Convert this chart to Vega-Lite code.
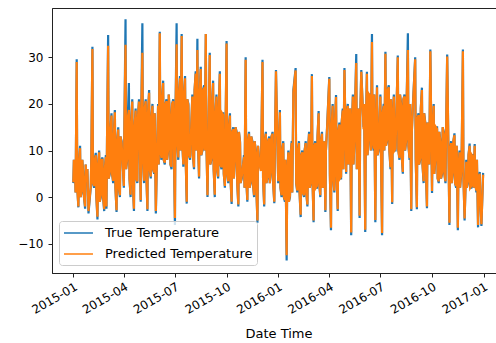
{
"$schema": "https://vega.github.io/schema/vega-lite/v6.json",
"width": 453, "height": 265,
"autosize": {"type": "none"},
"padding": {"left": 52, "top": 8, "right": 0, "bottom": 70},
"background": "white",
"config": {
 "font": "DejaVu Sans",
 "view": {"stroke": "#222", "strokeWidth": 1},
 "axis": {"grid": false, "domainColor": "#222", "tickColor": "#222", "labelColor": "#000", "labelFontSize": 12, "tickSize": 4, "labelPadding": 4, "domainWidth": 1, "tickWidth": 1, "titleColor": "#000", "titleFontWeight": "normal", "titleFontSize": 13}
},
"data": {"values": [
{"d":"2015-01-01","t":3,"p":3.2},{"d":"2015-01-02","t":8,"p":8},{"d":"2015-01-04","t":6.5,"p":6},{"d":"2015-01-05","t":1,"p":1},{"d":"2015-01-07","t":29.6,"p":29},{"d":"2015-01-08","t":2,"p":2},{"d":"2015-01-10","t":-2.2,"p":-2},{"d":"2015-01-11","t":7,"p":7},{"d":"2015-01-13","t":11,"p":10.5},{"d":"2015-01-14","t":0,"p":0},{"d":"2015-01-16","t":1,"p":1.4},{"d":"2015-01-17","t":8,"p":8},{"d":"2015-01-19","t":4.5,"p":4},{"d":"2015-01-20","t":0,"p":0},{"d":"2015-01-22","t":-2.5,"p":-2},{"d":"2015-01-23","t":7,"p":7},{"d":"2015-01-25","t":3,"p":3.2},{"d":"2015-01-26","t":6,"p":6},{"d":"2015-01-28","t":-3.5,"p":-3},
{"d":"2015-02-01","t":2,"p":2.3},{"d":"2015-02-02","t":8,"p":8},{"d":"2015-02-04","t":32.3,"p":31.8},{"d":"2015-02-05","t":3,"p":3},{"d":"2015-02-07","t":2,"p":2.4},{"d":"2015-02-08","t":8,"p":8},{"d":"2015-02-10","t":9.5,"p":9},{"d":"2015-02-11","t":0,"p":0},{"d":"2015-02-13","t":-4.8,"p":-4.2},{"d":"2015-02-14","t":7,"p":7},{"d":"2015-02-16","t":10,"p":9.6},{"d":"2015-02-17","t":-1,"p":-1},{"d":"2015-02-19","t":0,"p":0.4},{"d":"2015-02-20","t":8,"p":8},{"d":"2015-02-22","t":8.5,"p":8},{"d":"2015-02-23","t":0,"p":0},{"d":"2015-02-25","t":-3,"p":-2.6},{"d":"2015-02-26","t":6,"p":6},{"d":"2015-02-28","t":9,"p":8.6},
{"d":"2015-03-01","t":-2.5,"p":-2},{"d":"2015-03-02","t":12,"p":12},{"d":"2015-03-04","t":34.8,"p":32.5},{"d":"2015-03-05","t":4,"p":4},{"d":"2015-03-07","t":5,"p":5.4},{"d":"2015-03-08","t":14,"p":14},{"d":"2015-03-10","t":18,"p":17.5},{"d":"2015-03-11","t":5,"p":5},{"d":"2015-03-13","t":3,"p":3.5},{"d":"2015-03-14","t":13,"p":13},{"d":"2015-03-16","t":18.7,"p":18.2},{"d":"2015-03-17","t":2,"p":2},{"d":"2015-03-19","t":-3.2,"p":-2.8},{"d":"2015-03-20","t":12,"p":12},{"d":"2015-03-22","t":15,"p":14.5},{"d":"2015-03-23","t":2,"p":2},{"d":"2015-03-25","t":0,"p":0.4},{"d":"2015-03-26","t":13,"p":13},{"d":"2015-03-28","t":12,"p":11.6},
{"d":"2015-04-01","t":2,"p":2.4},{"d":"2015-04-02","t":16,"p":16},{"d":"2015-04-04","t":38.2,"p":32.7},{"d":"2015-04-05","t":6,"p":6},{"d":"2015-04-07","t":8,"p":8.4},{"d":"2015-04-08","t":17,"p":17},{"d":"2015-04-10","t":24.5,"p":18.7},{"d":"2015-04-11","t":4,"p":4},{"d":"2015-04-13","t":0,"p":0.5},{"d":"2015-04-14","t":16,"p":16},{"d":"2015-04-16","t":21,"p":20.5},{"d":"2015-04-17","t":3,"p":3},{"d":"2015-04-19","t":-3,"p":-2.5},{"d":"2015-04-20","t":15,"p":15},{"d":"2015-04-22","t":19,"p":18.6},{"d":"2015-04-23","t":4,"p":4},{"d":"2015-04-25","t":3,"p":3.4},{"d":"2015-04-26","t":17,"p":17},{"d":"2015-04-28","t":21,"p":20.5},
{"d":"2015-05-01","t":-1,"p":-0.6},{"d":"2015-05-02","t":18,"p":18},{"d":"2015-05-04","t":37.3,"p":31},{"d":"2015-05-05","t":8,"p":8},{"d":"2015-05-07","t":3,"p":3.5},{"d":"2015-05-08","t":19,"p":19},{"d":"2015-05-10","t":21,"p":20.6},{"d":"2015-05-11","t":5,"p":5},{"d":"2015-05-13","t":-3,"p":-2.6},{"d":"2015-05-14","t":18,"p":18},{"d":"2015-05-16","t":23,"p":22.4},{"d":"2015-05-17","t":6,"p":6},{"d":"2015-05-19","t":4,"p":4.4},{"d":"2015-05-20","t":17,"p":17},{"d":"2015-05-22","t":20,"p":19.6},{"d":"2015-05-23","t":6,"p":6},{"d":"2015-05-25","t":5,"p":5.3},{"d":"2015-05-26","t":18,"p":18},{"d":"2015-05-28","t":-3.5,"p":-3},
{"d":"2015-06-01","t":20,"p":19.6},{"d":"2015-06-02","t":7,"p":7},{"d":"2015-06-04","t":35.5,"p":35.2},{"d":"2015-06-05","t":10,"p":10},{"d":"2015-06-07","t":8,"p":8.4},{"d":"2015-06-08","t":21,"p":21},{"d":"2015-06-10","t":25,"p":24.5},{"d":"2015-06-11","t":8,"p":8},{"d":"2015-06-13","t":7,"p":7.4},{"d":"2015-06-14","t":20,"p":20},{"d":"2015-06-16","t":21,"p":20.6},{"d":"2015-06-17","t":8,"p":8},{"d":"2015-06-19","t":10,"p":10.4},{"d":"2015-06-20","t":22,"p":22},{"d":"2015-06-22","t":18,"p":17.5},{"d":"2015-06-23","t":7,"p":7},{"d":"2015-06-25","t":6,"p":6.5},{"d":"2015-06-26","t":20,"p":20},{"d":"2015-06-28","t":21,"p":20.6},
{"d":"2015-07-01","t":-6,"p":-4.5},{"d":"2015-07-02","t":18,"p":18},{"d":"2015-07-04","t":37.3,"p":32.8},{"d":"2015-07-05","t":12,"p":12},{"d":"2015-07-07","t":8,"p":8.5},{"d":"2015-07-08","t":22,"p":22},{"d":"2015-07-10","t":26,"p":25.5},{"d":"2015-07-11","t":10,"p":10},{"d":"2015-07-13","t":35,"p":34.6},{"d":"2015-07-14","t":12,"p":12},{"d":"2015-07-16","t":6.5,"p":7},{"d":"2015-07-17","t":22,"p":22},{"d":"2015-07-19","t":26,"p":25.5},{"d":"2015-07-20","t":9,"p":9},{"d":"2015-07-22","t":-1.4,"p":-1},{"d":"2015-07-23","t":21,"p":21},{"d":"2015-07-25","t":20,"p":19.6},{"d":"2015-07-26","t":9,"p":9},{"d":"2015-07-28","t":8,"p":8.4},
{"d":"2015-08-01","t":22,"p":21.6},{"d":"2015-08-02","t":9,"p":9},{"d":"2015-08-04","t":6,"p":6.4},{"d":"2015-08-05","t":23,"p":23},{"d":"2015-08-07","t":27,"p":26.5},{"d":"2015-08-08","t":10,"p":10},{"d":"2015-08-10","t":34,"p":31.6},{"d":"2015-08-11","t":12,"p":12},{"d":"2015-08-13","t":4,"p":4.4},{"d":"2015-08-14","t":22,"p":22},{"d":"2015-08-16","t":28,"p":27.5},{"d":"2015-08-17","t":9,"p":9},{"d":"2015-08-19","t":10,"p":10.4},{"d":"2015-08-20","t":23,"p":23},{"d":"2015-08-22","t":24,"p":23.5},{"d":"2015-08-23","t":10,"p":10},{"d":"2015-08-25","t":35,"p":35},{"d":"2015-08-26","t":12,"p":12},{"d":"2015-08-28","t":0,"p":0.4},
{"d":"2015-09-01","t":31,"p":30.5},{"d":"2015-09-02","t":7,"p":7},{"d":"2015-09-04","t":8,"p":8.4},{"d":"2015-09-05","t":20,"p":20},{"d":"2015-09-07","t":25,"p":24.5},{"d":"2015-09-08","t":6,"p":6},{"d":"2015-09-10","t":0,"p":0.5},{"d":"2015-09-11","t":18,"p":18},{"d":"2015-09-13","t":22,"p":21.6},{"d":"2015-09-14","t":6,"p":6},{"d":"2015-09-16","t":4,"p":4.4},{"d":"2015-09-17","t":19,"p":19},{"d":"2015-09-19","t":27,"p":26.5},{"d":"2015-09-20","t":7,"p":7},{"d":"2015-09-22","t":6,"p":6.4},{"d":"2015-09-23","t":18,"p":18},{"d":"2015-09-25","t":18,"p":17.6},{"d":"2015-09-26","t":5,"p":5},{"d":"2015-09-28","t":2,"p":2.4},
{"d":"2015-10-01","t":33.5,"p":33},{"d":"2015-10-02","t":5,"p":5},{"d":"2015-10-04","t":3,"p":3.4},{"d":"2015-10-05","t":15,"p":15},{"d":"2015-10-07","t":18,"p":17.5},{"d":"2015-10-08","t":4,"p":4},{"d":"2015-10-10","t":-1.5,"p":-1},{"d":"2015-10-11","t":14,"p":14},{"d":"2015-10-13","t":15,"p":14.6},{"d":"2015-10-14","t":4,"p":4},{"d":"2015-10-16","t":8,"p":8.4},{"d":"2015-10-17","t":15,"p":15},{"d":"2015-10-19","t":14,"p":13.6},{"d":"2015-10-20","t":3,"p":3},{"d":"2015-10-22","t":-2,"p":-1.6},{"d":"2015-10-23","t":14,"p":14},{"d":"2015-10-25","t":12,"p":11.6},{"d":"2015-10-26","t":3,"p":3},{"d":"2015-10-28","t":4,"p":4.4},
{"d":"2015-11-01","t":9,"p":8.6},{"d":"2015-11-02","t":2,"p":2},{"d":"2015-11-04","t":30,"p":29.5},{"d":"2015-11-05","t":4,"p":4},{"d":"2015-11-07","t":-1,"p":-0.6},{"d":"2015-11-08","t":12,"p":12},{"d":"2015-11-10","t":14,"p":13.6},{"d":"2015-11-11","t":2,"p":2},{"d":"2015-11-13","t":3,"p":3.4},{"d":"2015-11-14","t":13,"p":13},{"d":"2015-11-16","t":12,"p":11.6},{"d":"2015-11-17","t":3,"p":3},{"d":"2015-11-19","t":0,"p":0.4},{"d":"2015-11-20","t":12,"p":12},{"d":"2015-11-22","t":10,"p":9.6},{"d":"2015-11-23","t":2,"p":2},{"d":"2015-11-25","t":-5.5,"p":-5},{"d":"2015-11-26","t":11,"p":11},{"d":"2015-11-28","t":8,"p":7.6},
{"d":"2015-12-01","t":6,"p":5.6},{"d":"2015-12-02","t":12,"p":12},{"d":"2015-12-04","t":29.5,"p":29},{"d":"2015-12-05","t":4,"p":4},{"d":"2015-12-07","t":-2,"p":-1.6},{"d":"2015-12-08","t":12,"p":12},{"d":"2015-12-10","t":14,"p":13.6},{"d":"2015-12-11","t":3,"p":3},{"d":"2015-12-13","t":4,"p":4.4},{"d":"2015-12-14","t":12,"p":12},{"d":"2015-12-16","t":13,"p":12.6},{"d":"2015-12-17","t":3,"p":3},{"d":"2015-12-19","t":5,"p":5.4},{"d":"2015-12-20","t":13,"p":13},{"d":"2015-12-22","t":14,"p":13.6},{"d":"2015-12-23","t":3,"p":3},{"d":"2015-12-25","t":-1.3,"p":-1},{"d":"2015-12-26","t":10,"p":10},{"d":"2015-12-28","t":27.3,"p":27},
{"d":"2016-01-01","t":3,"p":3.4},{"d":"2016-01-02","t":9,"p":9},{"d":"2016-01-04","t":18.7,"p":18.2},{"d":"2016-01-05","t":2,"p":2},{"d":"2016-01-07","t":0,"p":0.4},{"d":"2016-01-08","t":10,"p":10},{"d":"2016-01-10","t":12,"p":11.6},{"d":"2016-01-11","t":0,"p":0},{"d":"2016-01-13","t":-1,"p":-0.6},{"d":"2016-01-14","t":8,"p":8},{"d":"2016-01-16","t":-13.6,"p":-12.5},{"d":"2016-01-17","t":4,"p":4},{"d":"2016-01-19","t":10,"p":9.6},{"d":"2016-01-20","t":-1,"p":-1},{"d":"2016-01-22","t":0,"p":0.4},{"d":"2016-01-23","t":9,"p":9},{"d":"2016-01-25","t":12,"p":11.6},{"d":"2016-01-26","t":1,"p":1},{"d":"2016-01-28","t":23,"p":22.5},
{"d":"2016-02-01","t":27.7,"p":27.2},{"d":"2016-02-02","t":3,"p":3},{"d":"2016-02-04","t":1,"p":1.4},{"d":"2016-02-05","t":10,"p":10},{"d":"2016-02-07","t":12,"p":11.6},{"d":"2016-02-08","t":1,"p":1},{"d":"2016-02-10","t":-4.3,"p":-3.8},{"d":"2016-02-11","t":9,"p":9},{"d":"2016-02-13","t":10,"p":9.6},{"d":"2016-02-14","t":1,"p":1},{"d":"2016-02-16","t":0,"p":0.4},{"d":"2016-02-17","t":10,"p":10},{"d":"2016-02-19","t":12,"p":11.6},{"d":"2016-02-20","t":1,"p":1},{"d":"2016-02-22","t":-2,"p":-1.6},{"d":"2016-02-23","t":10,"p":10},{"d":"2016-02-25","t":14,"p":13.6},{"d":"2016-02-26","t":2,"p":2},{"d":"2016-02-28","t":3,"p":3.4},
{"d":"2016-03-01","t":26.4,"p":26},{"d":"2016-03-02","t":4,"p":4},{"d":"2016-03-04","t":-5.4,"p":-5},{"d":"2016-03-05","t":11,"p":11},{"d":"2016-03-07","t":12,"p":11.6},{"d":"2016-03-08","t":2,"p":2},{"d":"2016-03-10","t":2,"p":2.4},{"d":"2016-03-11","t":13,"p":13},{"d":"2016-03-13","t":18.5,"p":18},{"d":"2016-03-14","t":3,"p":3},{"d":"2016-03-16","t":0,"p":0.4},{"d":"2016-03-17","t":12,"p":12},{"d":"2016-03-19","t":14,"p":13.6},{"d":"2016-03-20","t":2,"p":2},{"d":"2016-03-22","t":3,"p":3.4},{"d":"2016-03-23","t":12,"p":12},{"d":"2016-03-25","t":-3.2,"p":-2.8},{"d":"2016-03-26","t":10,"p":10},{"d":"2016-03-28","t":15,"p":14.6},
{"d":"2016-04-01","t":25.8,"p":25.4},{"d":"2016-04-02","t":5,"p":5},{"d":"2016-04-04","t":-7.1,"p":-6.6},{"d":"2016-04-05","t":15,"p":15},{"d":"2016-04-07","t":20,"p":19.6},{"d":"2016-04-08","t":4,"p":4},{"d":"2016-04-10","t":1,"p":1.4},{"d":"2016-04-11","t":16,"p":16},{"d":"2016-04-13","t":21.9,"p":21.5},{"d":"2016-04-14","t":5,"p":5},{"d":"2016-04-16","t":-3,"p":-2.6},{"d":"2016-04-17","t":14,"p":14},{"d":"2016-04-19","t":16,"p":15.6},{"d":"2016-04-20","t":4,"p":4},{"d":"2016-04-22","t":4,"p":4.4},{"d":"2016-04-23","t":16,"p":16},{"d":"2016-04-25","t":19,"p":18.6},{"d":"2016-04-26","t":6,"p":6},{"d":"2016-04-28","t":27.7,"p":27.3},
{"d":"2016-05-01","t":5,"p":5.4},{"d":"2016-05-02","t":18,"p":18},{"d":"2016-05-04","t":20,"p":19.6},{"d":"2016-05-05","t":7,"p":7},{"d":"2016-05-07","t":9,"p":9.4},{"d":"2016-05-08","t":19,"p":19},{"d":"2016-05-10","t":-8.2,"p":-7.6},{"d":"2016-05-11","t":14,"p":14},{"d":"2016-05-13","t":22,"p":21.6},{"d":"2016-05-14","t":7,"p":7},{"d":"2016-05-16","t":12,"p":12.4},{"d":"2016-05-17","t":20,"p":20},{"d":"2016-05-19","t":30.7,"p":28.8},{"d":"2016-05-20","t":6,"p":6},{"d":"2016-05-22","t":10,"p":10.4},{"d":"2016-05-23","t":19,"p":19},{"d":"2016-05-25","t":-4.5,"p":-4},{"d":"2016-05-26","t":17,"p":17},{"d":"2016-05-28","t":27.3,"p":26.9},
{"d":"2016-06-01","t":15,"p":14.6},{"d":"2016-06-02","t":20,"p":20},{"d":"2016-06-04","t":-7.5,"p":-7},{"d":"2016-06-05","t":14,"p":14},{"d":"2016-06-07","t":26.9,"p":26.5},{"d":"2016-06-08","t":9,"p":9},{"d":"2016-06-10","t":12,"p":12.4},{"d":"2016-06-11","t":22,"p":22},{"d":"2016-06-13","t":22,"p":21.6},{"d":"2016-06-14","t":10,"p":10},{"d":"2016-06-16","t":35,"p":33.3},{"d":"2016-06-17","t":12,"p":12},{"d":"2016-06-19","t":10,"p":10.4},{"d":"2016-06-20","t":22,"p":22},{"d":"2016-06-22","t":-5.4,"p":-4.9},{"d":"2016-06-23","t":12,"p":12},{"d":"2016-06-25","t":24,"p":23.6},{"d":"2016-06-26","t":9,"p":9},{"d":"2016-06-28","t":10,"p":10.4},
{"d":"2016-07-01","t":22,"p":21.6},{"d":"2016-07-02","t":10,"p":10},{"d":"2016-07-04","t":-8.2,"p":-7.7},{"d":"2016-07-05","t":18,"p":18},{"d":"2016-07-07","t":20,"p":19.6},{"d":"2016-07-08","t":10,"p":10},{"d":"2016-07-10","t":31.2,"p":30.8},{"d":"2016-07-11","t":11,"p":11},{"d":"2016-07-13","t":12,"p":12.4},{"d":"2016-07-14","t":23,"p":23},{"d":"2016-07-16","t":24,"p":23.6},{"d":"2016-07-17","t":10,"p":10},{"d":"2016-07-19","t":6,"p":6.4},{"d":"2016-07-20","t":21,"p":21},{"d":"2016-07-22","t":-1.5,"p":-1.1},{"d":"2016-07-23","t":16,"p":16},{"d":"2016-07-25","t":22,"p":21.6},{"d":"2016-07-26","t":10,"p":10},{"d":"2016-07-28","t":10,"p":10.4},
{"d":"2016-08-01","t":30.4,"p":30},{"d":"2016-08-02","t":10,"p":10},{"d":"2016-08-04","t":8,"p":8.4},{"d":"2016-08-05","t":22,"p":22},{"d":"2016-08-07","t":20,"p":19.6},{"d":"2016-08-08","t":9,"p":9},{"d":"2016-08-10","t":5,"p":5.4},{"d":"2016-08-11","t":21,"p":21},{"d":"2016-08-13","t":22,"p":21.6},{"d":"2016-08-14","t":10,"p":10},{"d":"2016-08-16","t":12,"p":12.4},{"d":"2016-08-17","t":22,"p":22},{"d":"2016-08-19","t":35.2,"p":31.6},{"d":"2016-08-20","t":11,"p":11},{"d":"2016-08-22","t":8,"p":8.4},{"d":"2016-08-23","t":20,"p":20},{"d":"2016-08-25","t":-3,"p":-2.6},{"d":"2016-08-26","t":14,"p":14},{"d":"2016-08-28","t":20,"p":19.6},
{"d":"2016-09-01","t":30,"p":29.6},{"d":"2016-09-02","t":8,"p":8},{"d":"2016-09-04","t":-2.6,"p":-2.2},{"d":"2016-09-05","t":17,"p":17},{"d":"2016-09-07","t":18,"p":17.6},{"d":"2016-09-08","t":7,"p":7},{"d":"2016-09-10","t":8,"p":8.4},{"d":"2016-09-11","t":19,"p":19},{"d":"2016-09-13","t":23.5,"p":23},{"d":"2016-09-14","t":7,"p":7},{"d":"2016-09-16","t":3,"p":3.4},{"d":"2016-09-17","t":18,"p":18},{"d":"2016-09-19","t":16,"p":15.6},{"d":"2016-09-20","t":6,"p":6},{"d":"2016-09-22","t":-2.4,"p":-2},{"d":"2016-09-23","t":16,"p":16},{"d":"2016-09-25","t":12,"p":11.6},{"d":"2016-09-26","t":7,"p":7},{"d":"2016-09-28","t":31.7,"p":31.3},
{"d":"2016-10-01","t":0.9,"p":1.3},{"d":"2016-10-02","t":14,"p":14},{"d":"2016-10-04","t":20,"p":19.6},{"d":"2016-10-05","t":5,"p":5},{"d":"2016-10-07","t":8,"p":8.4},{"d":"2016-10-08","t":15,"p":15},{"d":"2016-10-10","t":15,"p":14.6},{"d":"2016-10-11","t":4,"p":4},{"d":"2016-10-13","t":3,"p":3.4},{"d":"2016-10-14","t":14,"p":14},{"d":"2016-10-16","t":12,"p":11.6},{"d":"2016-10-17","t":4,"p":4},{"d":"2016-10-19","t":5,"p":5.4},{"d":"2016-10-20","t":15,"p":15},{"d":"2016-10-22","t":14,"p":13.6},{"d":"2016-10-23","t":5,"p":5},{"d":"2016-10-25","t":3,"p":3.4},{"d":"2016-10-26","t":14,"p":14},{"d":"2016-10-28","t":30.6,"p":30.2},
{"d":"2016-11-01","t":-6,"p":-5.5},{"d":"2016-11-02","t":10,"p":10},{"d":"2016-11-04","t":12,"p":11.6},{"d":"2016-11-05","t":3,"p":3},{"d":"2016-11-07","t":5,"p":5.4},{"d":"2016-11-08","t":12,"p":12},{"d":"2016-11-10","t":13.7,"p":13.3},{"d":"2016-11-11","t":3,"p":3},{"d":"2016-11-13","t":2,"p":2.4},{"d":"2016-11-14","t":11,"p":11},{"d":"2016-11-16","t":-7.1,"p":-6.6},{"d":"2016-11-17","t":6,"p":6},{"d":"2016-11-19","t":10,"p":9.6},{"d":"2016-11-20","t":2,"p":2},{"d":"2016-11-22","t":5,"p":5.4},{"d":"2016-11-23","t":11,"p":11},{"d":"2016-11-25","t":31.7,"p":31.3},{"d":"2016-11-26","t":4,"p":4},{"d":"2016-11-28","t":-5,"p":-4.6},
{"d":"2016-12-01","t":8,"p":7.6},{"d":"2016-12-02","t":2,"p":2},{"d":"2016-12-04","t":3,"p":3.4},{"d":"2016-12-05","t":9,"p":9},{"d":"2016-12-07","t":11.5,"p":11},{"d":"2016-12-08","t":2,"p":2},{"d":"2016-12-10","t":2,"p":2.4},{"d":"2016-12-11","t":9,"p":9},{"d":"2016-12-13","t":9,"p":8.6},{"d":"2016-12-14","t":2,"p":2},{"d":"2016-12-16","t":11.4,"p":11},{"d":"2016-12-17","t":3,"p":3},{"d":"2016-12-19","t":1,"p":1.4},{"d":"2016-12-20","t":8,"p":8},{"d":"2016-12-22","t":-6.5,"p":-6},{"d":"2016-12-23","t":4,"p":4},{"d":"2016-12-25","t":5.4,"p":5},{"d":"2016-12-26","t":-1,"p":-1},{"d":"2016-12-28","t":-6.2,"p":-5.8},{"d":"2016-12-31","t":5.2,"p":4.8}
]},
"layer": [
 {"mark": {"type": "line", "strokeWidth": 2.2},
  "encoding": {
   "x": {"field": "d", "type": "temporal",
     "scale": {"type": "utc", "domain": [{"year": 2014, "month": 11, "date": 24, "utc": true}, {"year": 2017, "month": 2, "date": 8, "utc": true}]},
     "axis": {"values": [{"year":2015,"month":1,"date":1,"utc":true},{"year":2015,"month":4,"date":1,"utc":true},{"year":2015,"month":7,"date":1,"utc":true},{"year":2015,"month":10,"date":1,"utc":true},{"year":2016,"month":1,"date":1,"utc":true},{"year":2016,"month":4,"date":1,"utc":true},{"year":2016,"month":7,"date":1,"utc":true},{"year":2016,"month":10,"date":1,"utc":true},{"year":2017,"month":1,"date":1,"utc":true}],
       "format": "%Y-%m", "labelAngle": -30, "labelAlign": "right", "labelBaseline": "top", "title": "Date Time", "titlePadding": 12}},
   "y": {"field": "t", "type": "quantitative", "scale": {"domain": [-16.3, 40.6], "nice": false, "zero": false}, "axis": {"values": [-10, 0, 10, 20, 30], "title": null, "labelPadding": 5}},
   "color": {"datum": "True Temperature", "type": "nominal",
     "scale": {"domain": ["True Temperature", "Predicted Temperature"], "range": ["#1f77b4", "#ff7f0e"]},
     "legend": {"orient": "none", "legendX": 7, "legendY": 213, "title": null, "symbolType": "M-1,0L3.14,0", "symbolSize": 196, "symbolStrokeWidth": 1.5, "labelFontSize": 13, "labelColor": "#000", "fillColor": "rgba(255,255,255,0.8)", "strokeColor": "#cccccc", "cornerRadius": 3, "padding": 4, "rowPadding": 6, "labelOffset": 26}}
  }},
 {"mark": {"type": "line", "strokeWidth": 2.2},
  "encoding": {
   "x": {"field": "d", "type": "temporal"},
   "y": {"field": "p", "type": "quantitative", "axis": {"title": null}},
   "color": {"datum": "Predicted Temperature", "type": "nominal"}
  }}
]
}
